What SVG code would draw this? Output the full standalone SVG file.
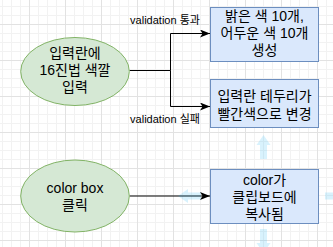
<svg xmlns="http://www.w3.org/2000/svg" width="333" height="247" viewBox="0 0 333 247">
  <defs>
    <!-- background grid: minor every 9px, major every 36px -->
    <pattern id="grid" patternUnits="userSpaceOnUse" x="29" y="24" width="36" height="36">
      <rect x="0" y="0" width="36" height="36" fill="#ffffff"/>
      <g fill="#f2f2f2">
        <rect x="9" y="0" width="1" height="36"/>
        <rect x="18" y="0" width="1" height="36"/>
        <rect x="27" y="0" width="1" height="36"/>
        <rect x="0" y="9" width="36" height="1"/>
        <rect x="0" y="18" width="36" height="1"/>
        <rect x="0" y="27" width="36" height="1"/>
      </g>
      <g fill="#e2e2e2">
        <rect x="0" y="0" width="1" height="36"/>
        <rect x="0" y="0" width="36" height="1"/>
      </g>
    </pattern>
    <marker id="arrow" viewBox="0 0 10 8" refX="10" refY="4" markerWidth="10" markerHeight="8" markerUnits="userSpaceOnUse" orient="auto">
      <path d="M10,4 L0,0 L2.5,4 L0,8 Z" fill="#000000"/>
    </marker>
  </defs>
  <style>
    .ellipse { fill: #d5e8d4; stroke: #82b366; stroke-width: 1; }
    .box { fill: #dae8fc; stroke: #6c8ebf; stroke-width: 1; }
    .label { font-family: "Liberation Sans", "Noto Sans CJK KR", sans-serif; font-size: 14px; fill: #000000; text-anchor: middle; }
    .edge-label { font-family: "Liberation Sans", "Noto Sans CJK KR", sans-serif; font-size: 11px; fill: #000000; text-anchor: middle; }
    .edge { fill: none; stroke: #000000; stroke-width: 1; }
    .hint { fill: #29b6f2; opacity: 0.18; }
  </style>

  <rect x="0" y="0" width="333" height="247" fill="url(#grid)"/>

  <!-- connectors -->
  <g id="edges">
    <path class="edge" d="M129.5,70.5 H170.5"/>
    <path class="edge" d="M170.5,70.5 V33.5 H210" marker-end="url(#arrow)"/>
    <path class="edge" d="M170.5,70.5 V106.5 H210" marker-end="url(#arrow)"/>
    <path class="edge" d="M129.5,196 H210" marker-end="url(#arrow)"/>
    <text class="edge-label" x="165" y="24">validation 통과</text>
    <text class="edge-label" x="165" y="123">validation 실패</text>
  </g>

  <g id="input-hex">
    <ellipse class="ellipse" cx="75" cy="71.5" rx="54.3" ry="34"/>
    <text class="label" x="75" y="58">입력란에</text>
    <text class="label" x="75" y="75">16진법 색깔</text>
    <text class="label" x="75" y="92">입력</text>
  </g>

  <g id="click-color-box">
    <ellipse class="ellipse" cx="75" cy="196" rx="54.3" ry="36"/>
    <text class="label" x="75" y="192.5">color box</text>
    <text class="label" x="75" y="210">클릭</text>
  </g>

  <g id="generate-colors">
    <rect class="box" x="210.5" y="7.5" width="108" height="54"/>
    <text class="label" x="264.5" y="20.5">밝은 색 10개,</text>
    <text class="label" x="264.5" y="38">어두운 색 10개</text>
    <text class="label" x="264.5" y="55">생성</text>
  </g>

  <g id="border-red">
    <rect class="box" x="210.5" y="79.5" width="108" height="48"/>
    <text class="label" x="264.5" y="101">입력란 테두리가</text>
    <text class="label" x="264.5" y="118.5">빨간색으로 변경</text>
  </g>

  <g id="copy-clipboard">
    <rect class="box" x="210.5" y="169.5" width="108" height="54"/>
    <text class="label" x="264.5" y="184.5">color가</text>
    <text class="label" x="264.5" y="201.5">클립보드에</text>
    <text class="label" x="264.5" y="218.5">복사됨</text>
  </g>

  <!-- hover direction arrows around the selected box -->
  <g id="hover-arrows">
    <path class="hint" d="M263.5,135 L270.5,145 L267,145 L267,159 L260,159 L260,145 L256.5,145 Z"/>
    <path class="hint" d="M263.5,253 L270.5,243 L267,243 L267,229 L260,229 L260,243 L256.5,243 Z"/>
    <path class="hint" d="M178,196 L188,189 L188,192.5 L201,192.5 L201,199.5 L188,199.5 L188,203 Z"/>
    <path class="hint" d="M348,196 L338,189 L338,192.5 L325,192.5 L325,199.5 L338,199.5 L338,203 Z"/>
  </g>
</svg>
